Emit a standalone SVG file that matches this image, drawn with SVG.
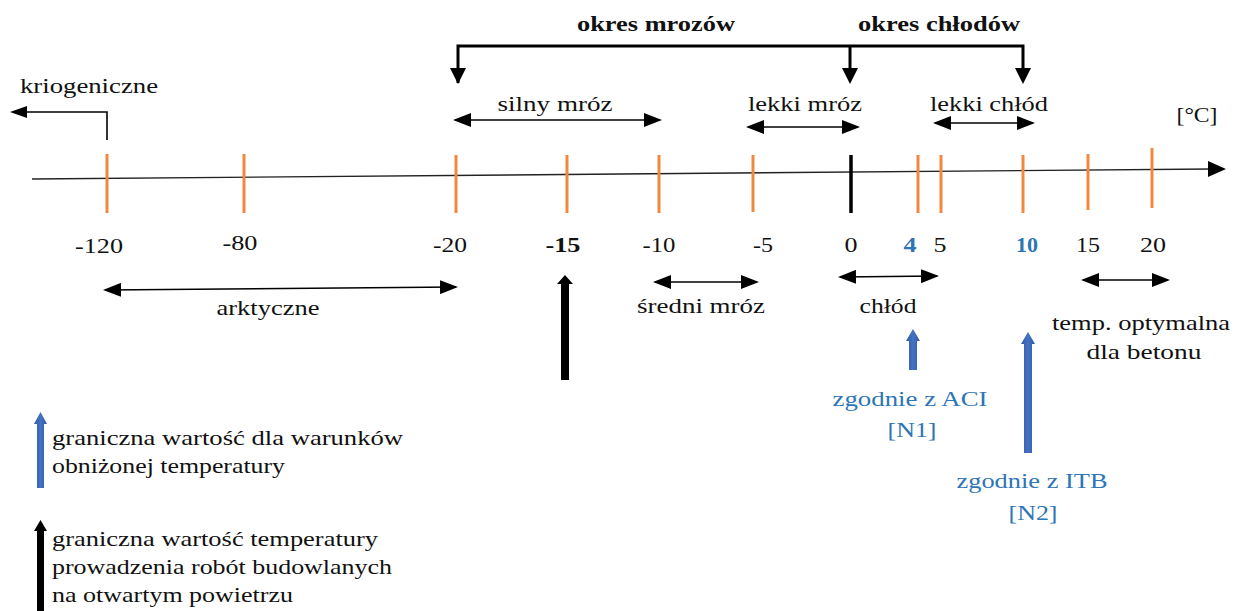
<svg xmlns="http://www.w3.org/2000/svg" width="1234" height="611" viewBox="0 0 1234 611">
<defs>
<style>
text{font-family:'Liberation Serif','Times New Roman','DejaVu Serif',serif;font-size:21px;fill:#111;text-anchor:middle}
.b{font-weight:bold}
.blue{fill:#2E75B6}
.l{text-anchor:start}
.tick{stroke:#F0883E;stroke-width:3}
.thin{stroke:#000;stroke-width:1.6;fill:none}
.thick{stroke:#000;stroke-width:3;fill:none}
</style>
<marker id="ah" markerUnits="userSpaceOnUse" markerWidth="18" markerHeight="14" refX="16" refY="7" orient="auto-start-reverse" viewBox="0 0 18 14">
<path d="M0,0 L18,7 L0,14 Z" fill="#000"/>
</marker>
<linearGradient id="bg" x1="0" x2="1" y1="0" y2="0">
<stop offset="0" stop-color="#2F5C9E"/><stop offset="0.5" stop-color="#4472C4"/><stop offset="1" stop-color="#2F5C9E"/>
</linearGradient>
</defs>

<g font-family="Liberation Serif, Times New Roman, serif" lengthAdjust="spacingAndGlyphs">

<g id="axis">
<line x1="32" y1="179" x2="1212" y2="169" stroke="#222" stroke-width="1.4"/>
<path d="M1226,169 L1208,161 L1208,177 Z" fill="#000"/>
<text x="1197" y="122" textLength="41" lengthAdjust="spacingAndGlyphs">[°C]</text>
</g>

<g id="ticks">
<line class="tick" x1="107" y1="154" x2="107" y2="213"/>
<line class="tick" x1="244" y1="154" x2="244" y2="213"/>
<line class="tick" x1="456" y1="155" x2="456" y2="213"/>
<line class="tick" x1="567" y1="155" x2="567" y2="213"/>
<line class="tick" x1="659" y1="155" x2="659" y2="213"/>
<line class="tick" x1="753" y1="155" x2="753" y2="212"/>
<line x1="851" y1="155" x2="851" y2="213" stroke="#000" stroke-width="3.5"/>
<line class="tick" x1="918" y1="155" x2="918" y2="213"/>
<line class="tick" x1="941" y1="155" x2="941" y2="213"/>
<line class="tick" x1="1023" y1="155" x2="1023" y2="213"/>
<line class="tick" x1="1088" y1="154" x2="1088" y2="210"/>
<line class="tick" x1="1152" y1="148" x2="1152" y2="208"/>
</g>

<g id="labels">
<text x="99" y="253" textLength="48" lengthAdjust="spacingAndGlyphs">-120</text>
<text x="240" y="250" textLength="35" lengthAdjust="spacingAndGlyphs">-80</text>
<text x="450" y="252" textLength="34" lengthAdjust="spacingAndGlyphs">-20</text>
<text x="563" y="252" class="b" textLength="35" lengthAdjust="spacingAndGlyphs">-15</text>
<text x="659" y="252" textLength="33" lengthAdjust="spacingAndGlyphs">-10</text>
<text x="763" y="252" textLength="20" lengthAdjust="spacingAndGlyphs">-5</text>
<text x="851" y="252" textLength="13" lengthAdjust="spacingAndGlyphs">0</text>
<text x="910" y="252" class="b blue" textLength="13" lengthAdjust="spacingAndGlyphs">4</text>
<text x="940" y="252" textLength="13" lengthAdjust="spacingAndGlyphs">5</text>
<text x="1027" y="252" class="b blue" textLength="22" lengthAdjust="spacingAndGlyphs">10</text>
<text x="1088" y="252" textLength="24" lengthAdjust="spacingAndGlyphs">15</text>
<text x="1153" y="252" textLength="26" lengthAdjust="spacingAndGlyphs">20</text>
</g>

<g id="connectors">
<polyline class="thick" points="458,83 458,46 1023,46 1023,80"/>
<line class="thick" x1="850" y1="46" x2="850" y2="80"/>
<path d="M450,68 L466,68 L458,84 Z" fill="#000"/>
<path d="M842,68 L858,68 L850,84 Z" fill="#000"/>
<path d="M1015,68 L1031,68 L1023,84 Z" fill="#000"/>
<polyline class="thin" points="107,140 107,112 26,112"/>
<path d="M10,112 L27,106 L27,118 Z" fill="#000"/>
<line class="thin" x1="455" y1="120" x2="660" y2="120" marker-start="url(#ah)" marker-end="url(#ah)"/>
<line class="thin" x1="748" y1="127" x2="858" y2="127" marker-start="url(#ah)" marker-end="url(#ah)"/>
<line class="thin" x1="935" y1="123" x2="1033" y2="123" marker-start="url(#ah)" marker-end="url(#ah)"/>
<line class="thin" x1="105" y1="290" x2="456" y2="287" marker-start="url(#ah)" marker-end="url(#ah)"/>
<line class="thin" x1="655" y1="282" x2="757" y2="282" marker-start="url(#ah)" marker-end="url(#ah)"/>
<line class="thin" x1="840" y1="277" x2="937" y2="276" marker-start="url(#ah)" marker-end="url(#ah)"/>
<line class="thin" x1="1083" y1="280" x2="1168" y2="280" marker-start="url(#ah)" marker-end="url(#ah)"/>
</g>

<g id="top-texts">
<text x="656" y="31" class="b" textLength="158" lengthAdjust="spacingAndGlyphs">okres mrozów</text>
<text x="939" y="31" class="b" textLength="162" lengthAdjust="spacingAndGlyphs">okres chłodów</text>
<text x="89" y="93" textLength="138" lengthAdjust="spacingAndGlyphs">kriogeniczne</text>
<text x="555" y="111" textLength="115" lengthAdjust="spacingAndGlyphs">silny mróz</text>
<text x="805" y="111" textLength="114" lengthAdjust="spacingAndGlyphs">lekki mróz</text>
<text x="989" y="111" textLength="118" lengthAdjust="spacingAndGlyphs">lekki chłód</text>
</g>

<g id="bottom-texts">
<text x="268" y="315" textLength="103" lengthAdjust="spacingAndGlyphs">arktyczne</text>
<text x="701" y="313" textLength="128" lengthAdjust="spacingAndGlyphs">średni mróz</text>
<text x="888" y="313" textLength="57" lengthAdjust="spacingAndGlyphs">chłód</text>
<text x="1141" y="330" textLength="178" lengthAdjust="spacingAndGlyphs">temp. optymalna</text>
<text x="1144" y="359" textLength="115" lengthAdjust="spacingAndGlyphs">dla betonu</text>
<text x="910" y="406" class="blue" textLength="155" lengthAdjust="spacingAndGlyphs">zgodnie z ACI</text>
<text x="912" y="437" class="blue" textLength="49" lengthAdjust="spacingAndGlyphs">[N1]</text>
<text x="1032" y="488" class="blue" textLength="151" lengthAdjust="spacingAndGlyphs">zgodnie z ITB</text>
<text x="1033" y="520" class="blue" textLength="49" lengthAdjust="spacingAndGlyphs">[N2]</text>
</g>

<g id="block-arrows">
<polygon points="561,380 569,380 569,284 573,284 565,275 557,284 561,284" fill="#000"/>
<polygon points="909,370 917,370 917,341 920,341 913,329 906,341 909,341" fill="url(#bg)"/>
<polygon points="1024,453 1032,453 1032,344 1035,344 1028,332 1021,344 1024,344" fill="url(#bg)"/>
</g>

<g id="legend">
<polygon points="37,488 44,488 44,424 47,424 40.5,412 34,424 37,424" fill="url(#bg)"/>
<text x="52" y="445" class="l" textLength="351" lengthAdjust="spacingAndGlyphs">graniczna wartość dla warunków</text>
<text x="52" y="473" class="l" textLength="233" lengthAdjust="spacingAndGlyphs">obniżonej temperatury</text>
<polygon points="37,611 44,611 44,531 47,531 40.5,520 34,531 37,531" fill="#000"/>
<text x="52" y="546" class="l" textLength="326" lengthAdjust="spacingAndGlyphs">graniczna wartość temperatury</text>
<text x="52" y="574" class="l" textLength="340" lengthAdjust="spacingAndGlyphs">prowadzenia robót budowlanych</text>
<text x="52" y="602" class="l" textLength="241" lengthAdjust="spacingAndGlyphs">na otwartym powietrzu</text>
</g>
</g>
</svg>
